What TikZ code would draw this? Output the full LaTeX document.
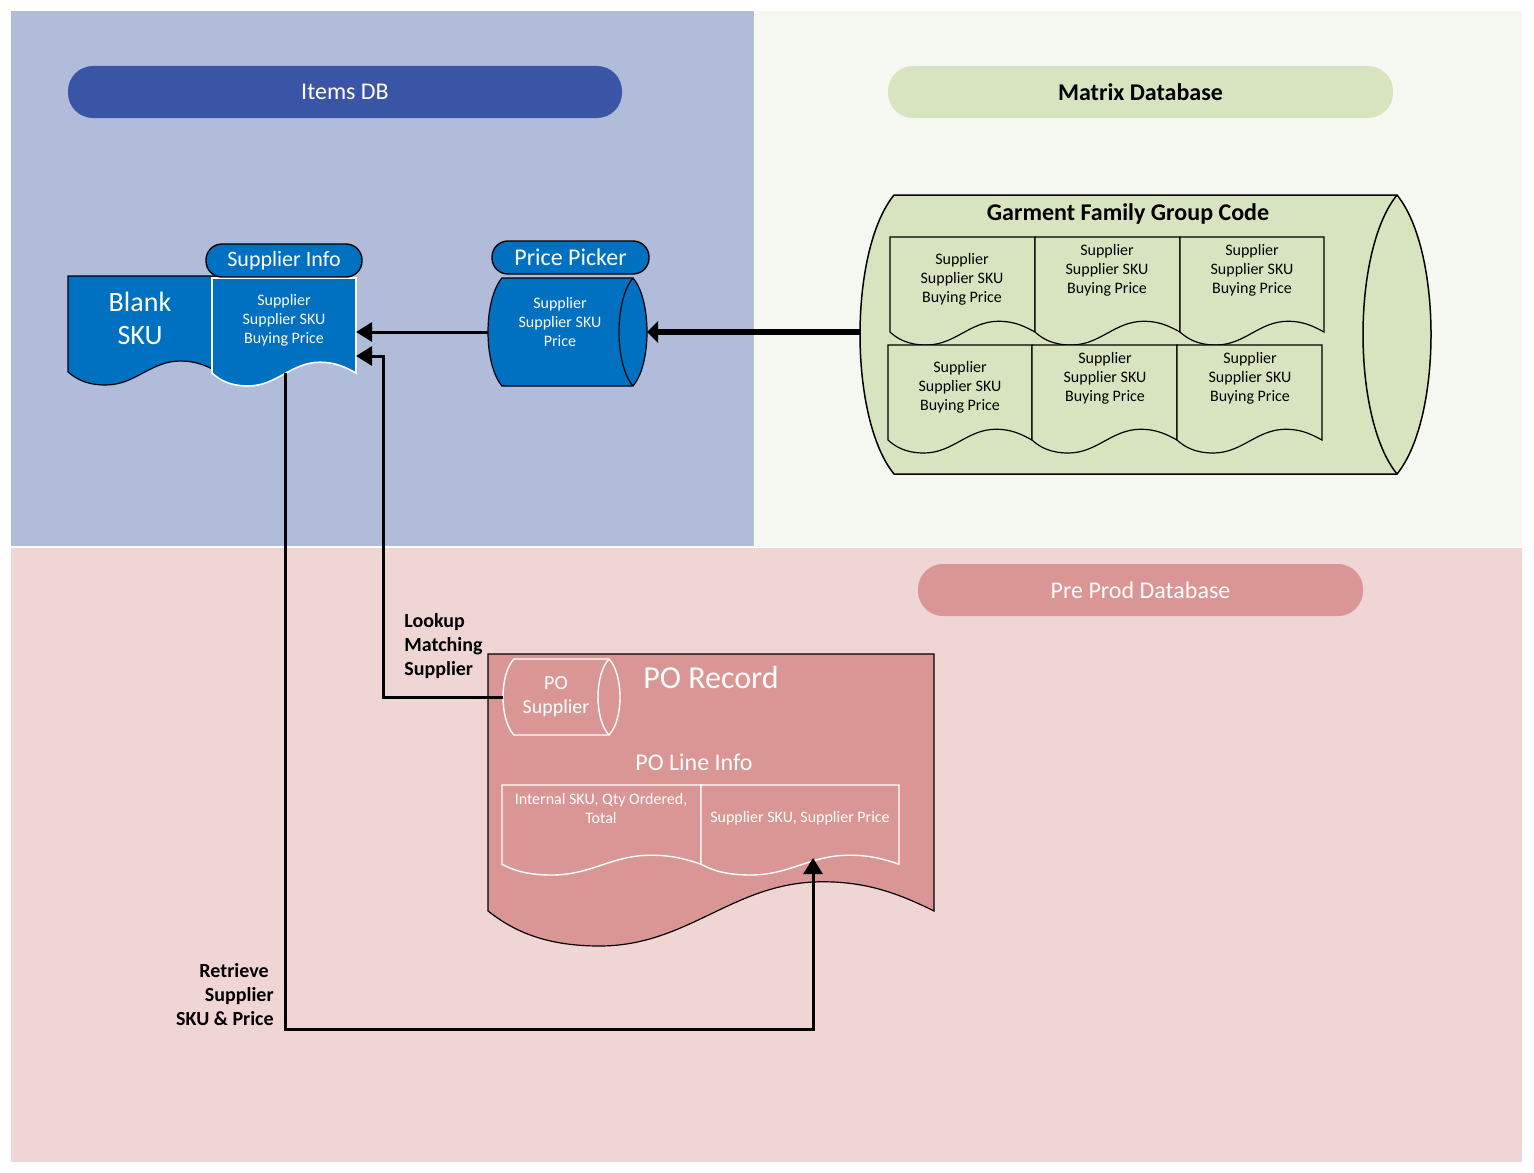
\documentclass[tikz,border=0pt]{standalone}
\usepackage{fontspec}
\setmainfont{Carlito}
\usetikzlibrary{arrows.meta}
\newlength\pxu \setlength\pxu{0.5pt}
\definecolor{bluebg}{HTML}{B1BCDB}
\definecolor{greenbg}{HTML}{F5F8F0}
\definecolor{pinkbg}{HTML}{F0D5D5}
\definecolor{itemsc}{HTML}{3A55A5}
\definecolor{matrixc}{HTML}{D8E4BF}
\definecolor{preprodc}{HTML}{D99694}
\definecolor{shapeblue}{HTML}{0070C0}
\newcommand\docshp[5]{\path[#1] (#2,#3) -- ({#2+#4},#3) -- ({#2+#4},{#3+0.88*#5}) .. controls ({#2+0.92*#4},{#3+0.82*#5}) and ({#2+0.85*#4},{#3+0.78*#5}) .. ({#2+0.75*#4},{#3+0.78*#5}) .. controls ({#2+0.55*#4},{#3+0.78*#5}) and ({#2+0.45*#4},{#3+#5}) .. ({#2+0.25*#4},{#3+#5}) .. controls ({#2+0.12*#4},{#3+#5}) and ({#2+0.05*#4},{#3+0.94*#5}) .. (#2,{#3+0.88*#5}) -- cycle;}
\newcommand\cylshp[6]{%
 \pgfmathsetmacro\cylL{#2+#6}\pgfmathsetmacro\cylR{#2+#4-#6}\pgfmathsetmacro\cylB{#3+#5}\pgfmathsetmacro\cylkx{1.3333*#6}\pgfmathsetmacro\cylta{#3+0.2*#5}\pgfmathsetmacro\cyltb{#3+0.8*#5}%
 \path[#1] (\cylL,#3) -- (\cylR,#3) .. controls ({\cylR+\cylkx},\cylta) and ({\cylR+\cylkx},\cyltb) .. (\cylR,\cylB) -- (\cylL,\cylB) .. controls ({\cylL-\cylkx},\cyltb) and ({\cylL-\cylkx},\cylta) .. (\cylL,#3) -- cycle;
 \path[#1,fill=none] (\cylR,#3) .. controls ({\cylR-\cylkx},\cylta) and ({\cylR-\cylkx},\cyltb) .. (\cylR,\cylB);}
\tikzset{
 geo/.style={rectangle,inner sep=0pt,outer sep=0pt,draw=none},
 pill/.style={rectangle,inner sep=0pt},
 small/.style={font=\fontsize{8}{9.5}\selectfont,align=center,inner sep=0pt},
 conn/.style={line width=1.5pt,-{Triangle[length=8pt,width=9.5pt]}},
 thickconn/.style={line width=3pt,-{Triangle[length=5.5pt,width=10.5pt]}},
 lbl/.style={font=\fontsize{10}{12}\selectfont\bfseries,inner sep=0pt},
}
\begin{document}
\begin{tikzpicture}[x=0.5pt,y=-0.5pt]
\useasboundingbox (0,0) rectangle (1534,1172);
\fill[white] (0,0) rectangle (1534,1172);
% panels
\fill[bluebg] (11,11) rectangle (754,546);
\fill[greenbg] (755,11) rectangle (1522,547);
\fill[pinkbg] (11,548) rectangle (1522,1162);
% header pills
\node[pill,fill=itemsc,minimum width=554\pxu,minimum height=52\pxu,rounded corners=25\pxu,text=white,font=\fontsize{12}{14}\selectfont] (itemsdb) at (345,92) {Items DB};
\node[pill,fill=matrixc,minimum width=505\pxu,minimum height=52\pxu,rounded corners=25\pxu,font=\fontsize{12}{14}\selectfont\bfseries] (matrixdb) at (1140.5,92) {Matrix Database};
\node[pill,fill=preprodc,minimum width=445\pxu,minimum height=52\pxu,rounded corners=25\pxu,text=white,font=\fontsize{12}{14}\selectfont] (preprod) at (1140.5,590) {Pre Prod Database};
% geometry anchors
\node[geo,minimum width=150\pxu,minimum height=109\pxu] (bs) at (143,330.5) {};
\node[geo,minimum width=144\pxu,minimum height=108\pxu] (si) at (284,332) {};
\node[geo,minimum width=159\pxu,minimum height=108\pxu] (ppc) at (567.5,332) {};
\node[geo,minimum width=571\pxu,minimum height=279\pxu] (mc) at (1145.5,334.5) {};
\node[geo,minimum width=117\pxu,minimum height=76\pxu] (pos) at (561.5,697) {};
\node[geo,minimum width=446\pxu,minimum height=292\pxu] (por) at (711,800) {};
% Blank SKU & Supplier Info documents
\docshp{fill=shapeblue,draw=black,line width=0.6pt}{68}{276}{150}{109}
\docshp{fill=shapeblue,draw=white,line width=0.8pt}{212}{278}{144}{108}
\node[pill,fill=shapeblue,draw=black,line width=0.7pt,minimum width=156\pxu,minimum height=33\pxu,rounded corners=16\pxu,text=white,font=\fontsize{11}{13}\selectfont] (sipill) at (284,260.5) {Supplier Info};
% Price picker
\cylshp{fill=shapeblue,draw=black,line width=0.6pt}{488}{278}{159}{108}{14}
\node[pill,fill=shapeblue,draw=black,line width=0.7pt,minimum width=157\pxu,minimum height=33\pxu,rounded corners=16\pxu,text=white,font=\fontsize{12}{14}\selectfont] (pppill) at (570.5,257.5) {Price Picker};
% Matrix cylinder
\cylshp{fill=matrixc,draw=black,line width=0.75pt}{860}{195}{571}{279}{34}
\docshp{fill=matrixc,draw=black,line width=0.6pt}{890}{237}{145}{108}
\docshp{fill=matrixc,draw=black,line width=0.6pt}{1035}{237}{145}{108}
\docshp{fill=matrixc,draw=black,line width=0.6pt}{1180}{237}{144}{108}
\docshp{fill=matrixc,draw=black,line width=0.6pt}{888}{345}{144}{108}
\docshp{fill=matrixc,draw=black,line width=0.6pt}{1032}{345}{145}{108}
\docshp{fill=matrixc,draw=black,line width=0.6pt}{1177}{345}{145}{108}
% PO record
\docshp{fill=preprodc,draw=black,line width=0.6pt}{488}{654}{446}{292}
\cylshp{fill=preprodc,draw=white,line width=0.7pt}{503}{659}{117}{76}{11}
\docshp{fill=preprodc,draw=white,line width=0.7pt}{502}{785}{199}{90}
\docshp{fill=preprodc,draw=white,line width=0.7pt}{701}{785}{198}{90}
% connector coordinates
\coordinate (lk) at (383,356);
\coordinate (sib) at (285,373);
\coordinate (corner) at (813,1029);
\coordinate (plt) at (813,858);
% connectors
\draw[thickconn] (mc.west |- ppc.east) -- (ppc.east);
\draw[conn] (ppc.west) -- (si.east);
\draw[conn] (pos.west) -| (lk) -- (lk -| si.east);
\draw[conn] (sib) |- (corner) -- (plt);
% texts
\node[align=center,text=white,font=\fontsize{14}{16.5}\selectfont,inner sep=0pt] (bstxt) at (140,318) {Blank\\SKU};
\node[small,text=white] (sitxt) at (284,320) {Supplier\\Supplier SKU\\Buying Price};
\node[small,text=white] (pptxt) at (560,322) {Supplier\\Supplier SKU\\Price};
\node[font=\fontsize{12}{14}\selectfont\bfseries,inner sep=0pt] (gfgc) at (1128,214) {Garment Family Group Code};
\node[small] (m1) at (962,279) {Supplier\\Supplier SKU\\Buying Price};
\node[small] (m2) at (1107,270) {Supplier\\Supplier SKU\\Buying Price};
\node[small] (m3) at (1252,270) {Supplier\\Supplier SKU\\Buying Price};
\node[small] (m4) at (960,387) {Supplier\\Supplier SKU\\Buying Price};
\node[small] (m5) at (1105,378) {Supplier\\Supplier SKU\\Buying Price};
\node[small] (m6) at (1250,378) {Supplier\\Supplier SKU\\Buying Price};
\node[text=white,font=\fontsize{16}{19}\selectfont,inner sep=0pt] (portxt) at (711,677) {PO Record};
\node[text=white,font=\fontsize{12}{14}\selectfont,inner sep=0pt] (politxt) at (694,762) {PO Line Info};
\node[align=center,text=white,font=\fontsize{10}{12}\selectfont,inner sep=0pt] (postxt) at (556,697) {PO\\Supplier};
\node[small,text=white] (pol1) at (601,808.5) {Internal SKU, Qty Ordered,\\Total};
\node[small,text=white] (pol2) at (800,818) {Supplier SKU, Supplier Price};
\node[lbl,anchor=west,align=left] (lookup) at (404,646) {Lookup\\Matching\\Supplier};
\node[lbl,anchor=east,align=right] (retr) at (274,995) {Retrieve\kern2.5pt\\Supplier\\SKU \& Price};
\end{tikzpicture}
\end{document}
